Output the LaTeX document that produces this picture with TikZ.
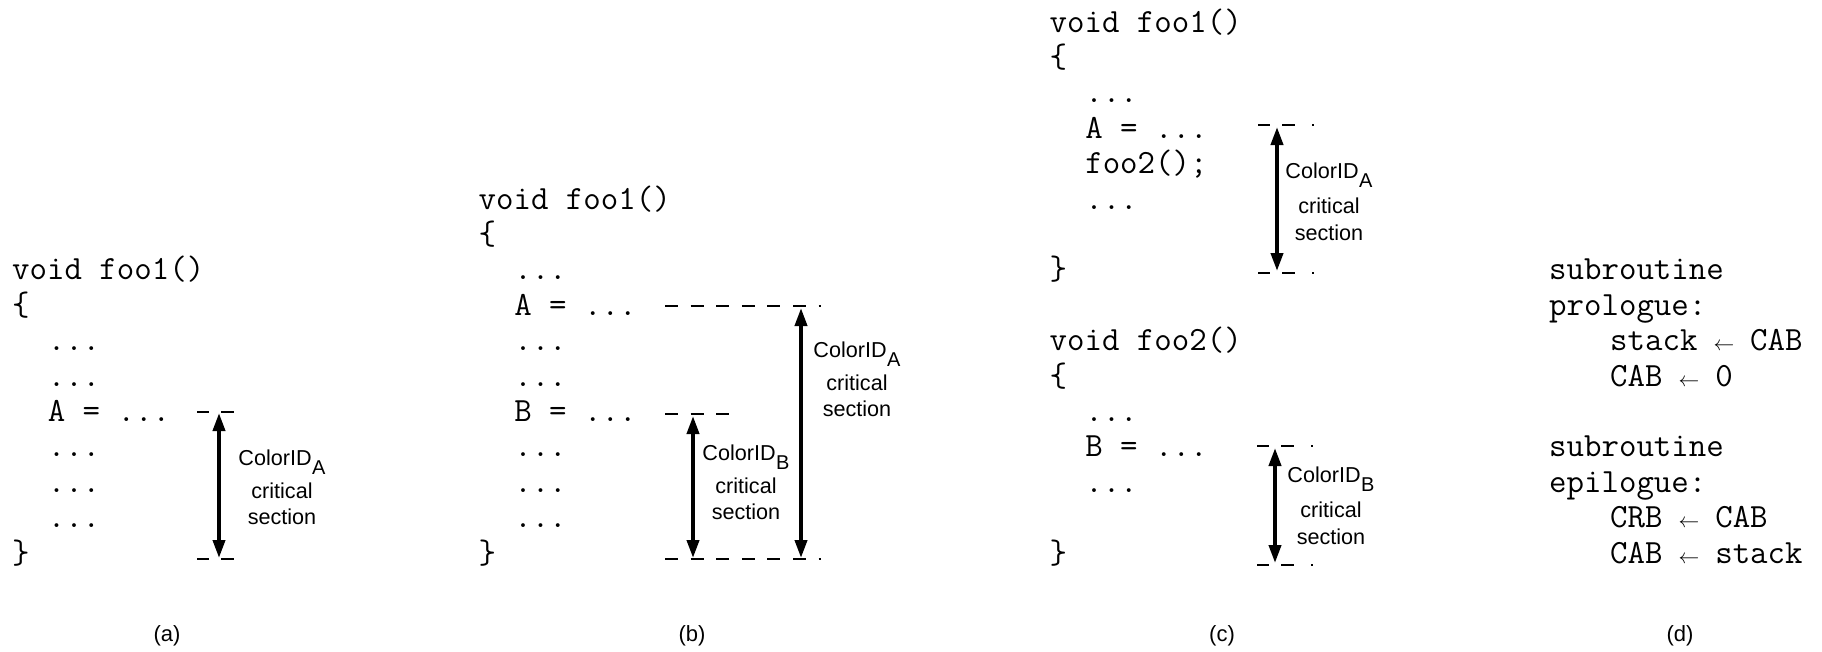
\documentclass[tikz,border=0pt]{standalone}
\usepackage{fontspec}
\setmainfont{Liberation Sans}
\usetikzlibrary{arrows.meta}
\newcommand\subl[1]{\kern0.5pt\raisebox{-9pt}{\fontsize{20}{20}\selectfont #1}}
\newcommand\larr{\makebox[17.8pt]{\fontsize{22}{22}\selectfont$\leftarrow$}}
\begin{document}
\begin{tikzpicture}[x=1pt,y=-1pt,
  code/.style={font=\ttfamily\fontsize{33.9}{40}\selectfont, anchor=base west, inner sep=0pt},
  lab/.style={font=\fontsize{21.6}{26}\selectfont, anchor=base, inner sep=0pt},
  capt/.style={font=\fontsize{22}{26}\selectfont, anchor=base, inner sep=0pt},
  guide/.style={line width=1.2pt, dash pattern=on 12pt off 12pt on 13pt off 17pt on 2pt off 40pt},
  longguide/.style={line width=1.2pt, dash pattern=on 13pt off 12.6pt},
  span/.style={line width=3.8pt, {Triangle[length=18pt,width=12pt]}-{Triangle[length=18pt,width=12pt]}}]
\useasboundingbox (0,0) rectangle (1822,651);

% ---------- panel (a) ----------
\node[code] (a1) at (12,279.8) {void foo1()};
\node[code] (a2) at (12,315.2) {\{};
\node[code] (a3) at (47.6,350.6) {...};
\node[code] (a4) at (47.6,386) {...};
\node[code] (a5) at (47.6,421.4) {A = ...};
\node[code] (a6) at (47.6,456.8) {...};
\node[code] (a7) at (47.6,492.2) {...};
\node[code] (a8) at (47.6,527.6) {...};
\node[code] (a9) at (12,563) {\}};
\coordinate (aTL) at (197,412); \coordinate (aTR) at (237,412);
\coordinate (aBL) at (197,559); \coordinate (aBR) at (237,559);
\draw[guide] (aTL) -- (aTR);
\draw[guide] (aBL) -- (aBR);
\coordinate (aT) at (219,413); \coordinate (aB) at (219,558);
\draw[span] (aT) -- (aB);
\node[lab] (aL1) at (282,465) {ColorID\subl{A}};
\node[lab] (aL2) at (282,498) {critical};
\node[lab] (aL3) at (282,524) {section};

% ---------- panel (b) ----------
\node[code] (b1) at (478.5,209) {void foo1()};
\node[code] (b2) at (478.5,244.4) {\{};
\node[code] (b3) at (514.1,279.8) {...};
\node[code] (b4) at (514.1,315.2) {A = ...};
\node[code] (b5) at (514.1,350.6) {...};
\node[code] (b6) at (514.1,386) {...};
\node[code] (b7) at (514.1,421.4) {B = ...};
\node[code] (b8) at (514.1,456.8) {...};
\node[code] (b9) at (514.1,492.2) {...};
\node[code] (b10) at (514.1,527.6) {...};
\node[code] (b11) at (478.5,563) {\}};
\coordinate (bAL) at (665,306); \coordinate (bAR) at (821,306);
\coordinate (bBL) at (665,414); \coordinate (bBR) at (731,414);
\coordinate (bEL) at (665,559); \coordinate (bER) at (821,559);
\draw[longguide] (bAL) -- (bAR);
\draw[longguide] (bBL) -- (bBR);
\draw[longguide] (bEL) -- (bER);
\coordinate (bAT) at (801,308); \coordinate (bAB) at (801,558);
\coordinate (bBT) at (693,416); \coordinate (bBB) at (693,558);
\draw[span] (bAT) -- (bAB);
\draw[span] (bBT) -- (bBB);
\node[lab] (bA1) at (857,357) {ColorID\subl{A}};
\node[lab] (bA2) at (857,390) {critical};
\node[lab] (bA3) at (857,416) {section};
\node[lab] (bB1) at (746,460) {ColorID\subl{B}};
\node[lab] (bB2) at (746,493) {critical};
\node[lab] (bB3) at (746,519) {section};

% ---------- panel (c) ----------
\node[code] (c1) at (1049.5,32) {void foo1()};
\node[code] (c2) at (1049.5,67.4) {\{};
\node[code] (c3) at (1085.1,102.8) {...};
\node[code] (c4) at (1085.1,138.2) {A = ...};
\node[code] (c5) at (1085.1,173.6) {foo2();};
\node[code] (c6) at (1085.1,209) {...};
\node[code] (c7) at (1049.5,279.8) {\}};
\node[code] (c8) at (1049.5,350.6) {void foo2()};
\node[code] (c9) at (1049.5,386) {\{};
\node[code] (c10) at (1085.1,421.4) {...};
\node[code] (c11) at (1085.1,456.8) {B = ...};
\node[code] (c12) at (1085.1,492.2) {...};
\node[code] (c13) at (1049.5,563) {\}};
\coordinate (cATL) at (1258,125); \coordinate (cATR) at (1314,125);
\coordinate (cABL) at (1258,273); \coordinate (cABR) at (1314,273);
\draw[guide] (cATL) -- (cATR);
\draw[guide] (cABL) -- (cABR);
\coordinate (cAT) at (1277,127); \coordinate (cAB) at (1277,271);
\draw[span] (cAT) -- (cAB);
\node[lab] (cA1) at (1329,178) {ColorID\subl{A}};
\node[lab] (cA2) at (1329,213) {critical};
\node[lab] (cA3) at (1329,240) {section};
\coordinate (cBTL) at (1257,446); \coordinate (cBTR) at (1313,446);
\coordinate (cBBL) at (1257,565); \coordinate (cBBR) at (1313,565);
\draw[guide] (cBTL) -- (cBTR);
\draw[guide] (cBBL) -- (cBBR);
\coordinate (cBT) at (1275,448); \coordinate (cBB) at (1275,563);
\draw[span] (cBT) -- (cBB);
\node[lab] (cB1) at (1331,482) {ColorID\subl{B}};
\node[lab] (cB2) at (1331,517) {critical};
\node[lab] (cB3) at (1331,544) {section};

% ---------- panel (d) ----------
\node[code] (d1) at (1549,279.8) {subroutine};
\node[code] (d2) at (1549,315.2) {prologue:};
\node[code] (d3) at (1610,350.6) {stack \larr{} CAB};
\node[code] (d4) at (1610,386) {CAB \larr{} 0};
\node[code] (d5) at (1549,456.8) {subroutine};
\node[code] (d6) at (1549,492.2) {epilogue:};
\node[code] (d7) at (1610,527.6) {CRB \larr{} CAB};
\node[code] (d8) at (1610,563) {CAB \larr{} stack};

% ---------- captions ----------
\node[capt] (capa) at (167,641) {(a)};
\node[capt] (capb) at (692,641) {(b)};
\node[capt] (capc) at (1222,641) {(c)};
\node[capt] (capd) at (1680,641) {(d)};
\end{tikzpicture}
\end{document}
